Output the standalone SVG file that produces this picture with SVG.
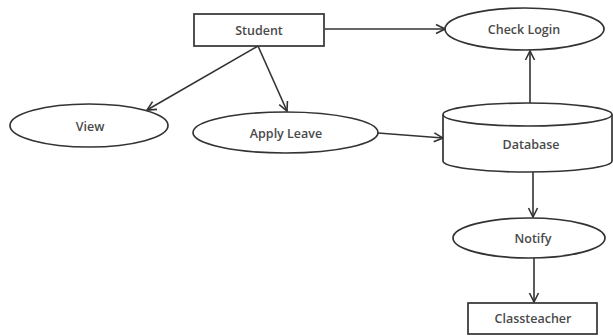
<svg xmlns="http://www.w3.org/2000/svg" width="613" height="336" viewBox="0 0 613 336">
<defs>
<style>
.shape{fill:#fff;stroke:#333;stroke-width:1.7}
.lbl{font-family:"Open Sans","Liberation Sans",sans-serif;font-size:12.5px;font-weight:600;fill:#4a4a4a;text-anchor:middle;dominant-baseline:central}
.edge{fill:none;stroke:#333;stroke-width:1.6;marker-end:url(#arr)}
</style>
<marker id="arr" viewBox="0 0 12 12" refX="11" refY="6" markerWidth="12" markerHeight="12" markerUnits="userSpaceOnUse" orient="auto">
<path d="M2,1.5 L11,6 L2,10.5" fill="none" stroke="#333" stroke-width="1.6"/>
</marker>
</defs>
<rect width="613" height="336" fill="#fff"/>
<g id="connectors">
<line class="edge" x1="325" y1="29" x2="445" y2="29"/>
<line class="edge" x1="258" y1="46" x2="147" y2="110"/>
<line class="edge" x1="258" y1="46" x2="287" y2="111"/>
<line class="edge" x1="378" y1="133" x2="443" y2="138"/>
<line class="edge" x1="530" y1="103" x2="530" y2="51"/>
<line class="edge" x1="533" y1="172" x2="533" y2="217"/>
<line class="edge" x1="534" y1="258" x2="534" y2="302"/>
</g>
<g id="student">
<rect class="shape" x="194" y="14" width="130" height="32"/>
<text class="lbl" x="259" y="30">Student</text>
</g>
<g id="checklogin">
<ellipse class="shape" cx="524.5" cy="29" rx="79.5" ry="21"/>
<text class="lbl" x="524" y="29">Check Login</text>
</g>
<g id="view">
<ellipse class="shape" cx="89" cy="125.5" rx="79" ry="21.5"/>
<text class="lbl" x="90" y="126">View</text>
</g>
<g id="applyleave">
<ellipse class="shape" cx="285.5" cy="132.5" rx="92.5" ry="20.5"/>
<text class="lbl" x="286" y="133">Apply Leave</text>
</g>
<g id="database">
<path class="shape" d="M443,115 L443,161 A84.5,11 0 0 0 612,161 L612,115"/>
<ellipse class="shape" cx="527.5" cy="114.5" rx="84.5" ry="11.5"/>
<text class="lbl" x="531" y="144">Database</text>
</g>
<g id="notify">
<ellipse class="shape" cx="529" cy="238" rx="76" ry="20"/>
<text class="lbl" x="533" y="238">Notify</text>
</g>
<g id="classteacher">
<rect class="shape" x="468" y="303" width="129" height="31"/>
<text class="lbl" x="533" y="318">Classteacher</text>
</g>
</svg>
